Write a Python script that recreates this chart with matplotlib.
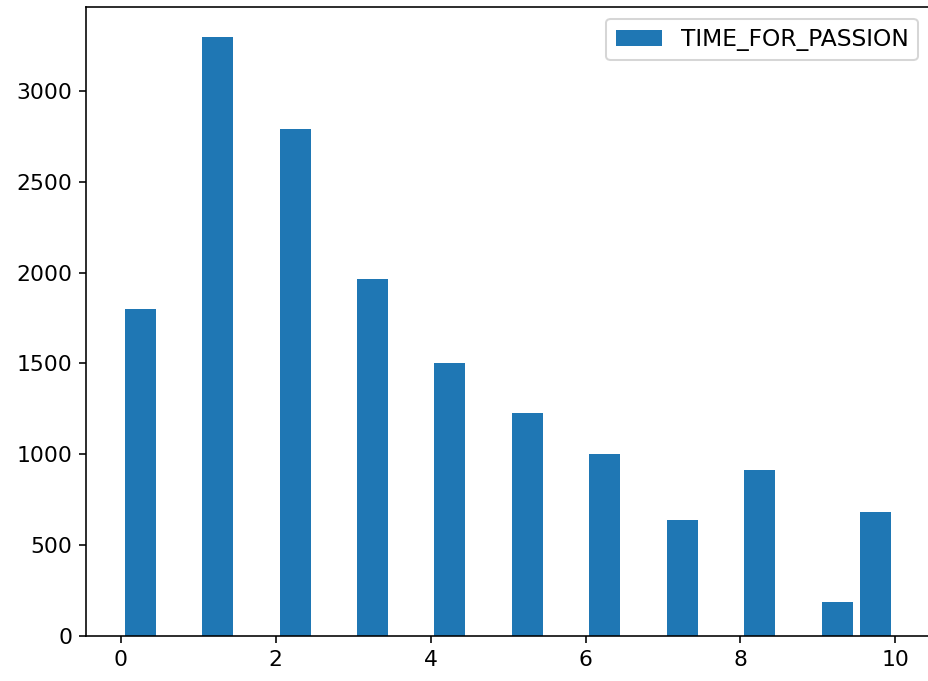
import numpy as np
import matplotlib
matplotlib.use("Agg")
import matplotlib.pyplot as plt

# hours per day given to a passion, and how many people answered each
hours = [0, 1, 2, 3, 4, 5, 6, 7, 8, 9, 10]
counts = [1797, 3297, 2791, 1967, 1505, 1225, 1000, 637, 912, 187, 681]

fig = plt.figure(figsize=(928 / 145, 681 / 145), dpi=145)
ax = fig.add_axes([86.3 / 928, 45 / 681, 843.5 / 928, 629 / 681])

ax.hist(hours, bins=20, weights=counts, rwidth=0.8, label="TIME_FOR_PASSION")
ax.tick_params(labelsize=10.9)
ax.spines["right"].set_visible(False)  # right edge falls outside the saved image
ax.legend(loc="upper right", fontsize=11.6)

fig.savefig("out.png", dpi=145)
